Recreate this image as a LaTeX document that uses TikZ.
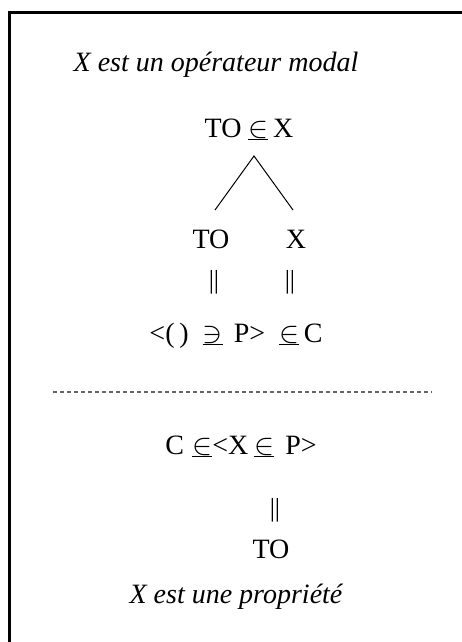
\documentclass[tikz,border=0pt]{standalone}
\usepackage{fontspec}
\usepackage{graphicx}
\setmainfont{Liberation Serif}
\newcommand{\uin}{\underline{\resizebox{20pt}{!}{$\in$}}}
\newcommand{\uni}{\underline{\resizebox{20pt}{!}{$\ni$}}}
\begin{document}
\begin{tikzpicture}[x=1pt,y=-1pt,
  txt/.style={anchor=base,inner sep=0pt,font=\fontsize{28}{32}\selectfont},
  ttl/.style={anchor=base,inner sep=0pt,font=\fontsize{28}{32}\selectfont\itshape},
  eqbars/.style={anchor=base,inner sep=0pt,font=\fontsize{26}{30}\selectfont},
  branch/.style={line width=1pt},
  sep/.style={line width=1.3pt,gray!80!black,dash pattern=on 4pt off 3pt},
  frame/.style={line width=2.7pt,line join=miter}]
\useasboundingbox (0,0) rectangle (462,642);
\draw[frame] (9.7,642) -- (9.7,12.7) -- (462,12.7);

\node[ttl] (title) at (216,71) {X est un opérateur modal};
\node[txt] (root) at (249,137) {TO \uin\,X};
\coordinate (apex) at (254,156);
\coordinate (lend) at (215,210);
\coordinate (rend) at (293,210);
\draw[branch] (lend) -- (apex) -- (rend);
\node[txt] (to1) at (211,248) {TO};
\node[txt] (x1) at (296,248) {X};
\node[eqbars] (eq1) at (214,288) {||};
\node[eqbars] (eq2) at (290,288) {||};
\node[txt] (form1) at (236,342) {<(\,)\hspace{0.5em}\uni\hspace{0.4em}P>\hspace{0.5em}\uin\,C};
\coordinate (dl) at (53,392);
\coordinate (dr) at (432,392);
\draw[sep] (dl) -- (dr);
\node[txt] (form2) at (241,454) {C\hspace{0.3em}\uin<X\hspace{0.2em}\uin\hspace{0.4em}P>};
\node[eqbars] (eq3) at (275,516) {||};
\node[txt] (to2) at (271,558) {TO};
\node[ttl] (title2) at (236,603) {X est une propriété};
\end{tikzpicture}
\end{document}
